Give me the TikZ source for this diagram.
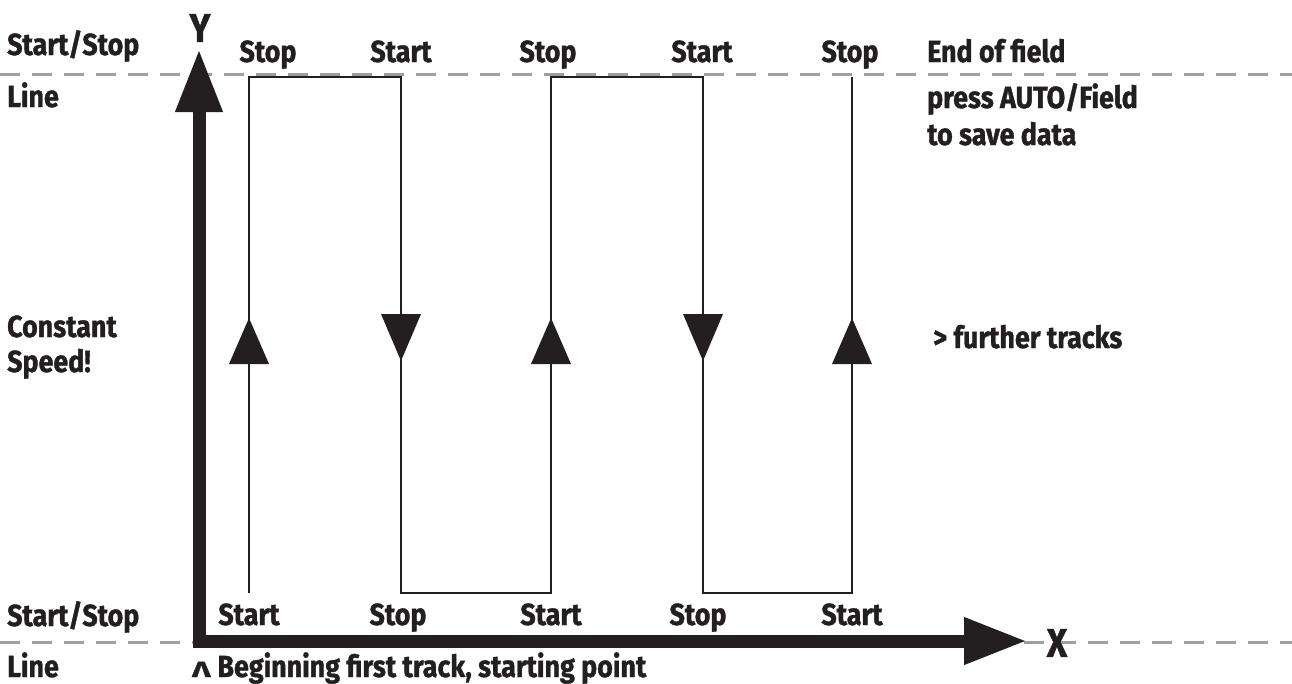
\documentclass[tikz,border=0pt]{standalone}
\usepackage{fontspec}
\setmainfont{Fira Sans}[FakeStretch=0.88,BoldFeatures={FakeBold=1.2}]
\usepackage{tikz}
\usetikzlibrary{arrows.meta}
\definecolor{ttttuu}{rgb}{0.137,0.122,0.125}
\definecolor{aaaaaa}{rgb}{0.62,0.62,0.62}
\tikzstyle{every node}=[font=\fontsize{30.5}{36}\selectfont\bfseries,text=ttttuu,inner sep=0pt]
\tikzset{
  track/.style={line width=2.5pt,color=ttttuu},
  fieldline/.style={line width=3pt,color=aaaaaa,dash pattern=on 20pt off 12pt},
  axis/.style={line width=13pt,color=ttttuu,line join=miter},
  axislabel/.style={font=\fontsize{40}{44}\selectfont\bfseries}
}

\begin{document}
\begin{tikzpicture}[line cap=butt,line join=miter,>={Triangle[length=63pt,width=44pt]},x=1pt,y=-1pt]
\useasboundingbox (0,0) rectangle (1292,683);
% field lines
\coordinate (topl) at (0,74);
\coordinate (topr) at (1292,74);
\coordinate (botl) at (0,642);
\coordinate (botr) at (1292,642);
\draw [fieldline] (topl) -- (topr);
\draw [fieldline] (botl) -- (botr);
% axes
\coordinate (O) at (199,641);
\coordinate (ytip) at (199,49);
\coordinate (xtip) at (1027,641);
\draw [axis,<->] (ytip) -- (O) -- (xtip);
\node [axislabel] (ylab) at (200,28) {Y};
\node [axislabel] (xlab) at (1057,643) {X};
% tracks
\coordinate (t1b) at (249,593); \coordinate (t1t) at (249,77);
\coordinate (t2t) at (401,77);  \coordinate (t2b) at (401,593);
\coordinate (t3b) at (551,593); \coordinate (t3t) at (551,77);
\coordinate (t4t) at (703,77);  \coordinate (t4b) at (703,593);
\coordinate (t5b) at (852,593); \coordinate (t5t) at (852,77);
\draw [track] (t1b) -- (t1t) -- (t2t) -- (t2b) -- (t3b) -- (t3t) -- (t4t) -- (t4b) -- (t5b) -- (t5t);
% direction marks
\foreach \x in {249,551,852}
  \fill [ttttuu] (\x,318) -- ({\x-20},364) -- ({\x+20},364) -- cycle;
\foreach \x in {401,703}
  \fill [ttttuu] (\x,361) -- ({\x-20},314) -- ({\x+20},314) -- cycle;
% labels left
\node [anchor=base west] (sstop) at (7,55) {Start/Stop};
\node [anchor=base west] (ltop) at (7,107) {Line};
\node [anchor=base west] (const) at (7,337) {Constant};
\node [anchor=base west] (speed) at (7,372) {Speed!};
\node [anchor=base west] (sbot) at (7,626) {Start/Stop};
\node [anchor=base west] (lbot) at (7,677) {Line};
% labels top
\node [anchor=base] (top1) at (268,62) {Stop};
\node [anchor=base] (top2) at (401,62) {Start};
\node [anchor=base] (top3) at (548,62) {Stop};
\node [anchor=base] (top4) at (702,62) {Start};
\node [anchor=base] (top5) at (850,62) {Stop};
\node [anchor=base west] (eof) at (927,62) {End of field};
\node [anchor=base west] (press) at (927,108) {press AUTO/Field};
\node [anchor=base west] (save) at (927,145) {to save data};
\node [anchor=base west] (further) at (933,348) {> further tracks};
% labels bottom
\node [anchor=base] (bot1) at (249,625) {Start};
\node [anchor=base] (bot2) at (398,625) {Stop};
\node [anchor=base] (bot3) at (551,625) {Start};
\node [anchor=base] (bot4) at (698,625) {Stop};
\node [anchor=base] (bot5) at (852,625) {Start};
\node [anchor=base west] (begin) at (192,677) {\scalebox{1.6}[1]{\fontsize{22}{22}\selectfont Λ}\hspace{7pt}Beginning first track, starting point};
\end{tikzpicture}
\end{document}
